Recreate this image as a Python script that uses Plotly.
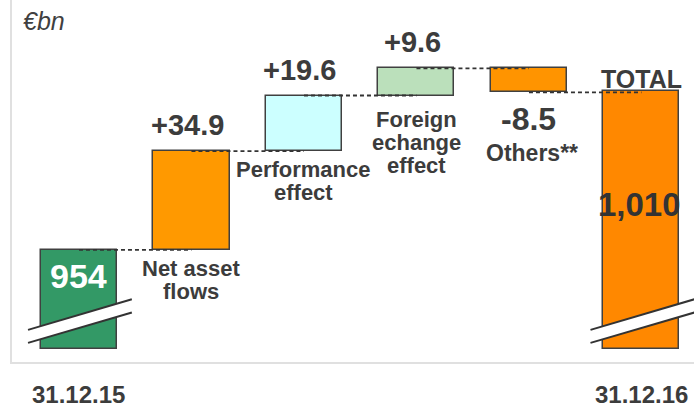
import plotly.graph_objects as go

# Assets under management bridge, EUR bn
period_labels = ["31.12.15", "31.12.16"]
opening_value = 954
closing_value = 1010
step_values = [34.9, 19.6, 9.6, -8.5]
step_names = [["Net asset", "flows"], ["Performance", "effect"],
              ["Foreign", "echange", "effect"], ["Others**"]]
total_label = "TOTAL"
unit_label = "€bn"

# Styling
AXIS_FLOOR = 919          # where the broken start/end bars are cut off
Y_RANGE = [914.1, 1042.2]
X_RANGE = [-0.702, 5.467]
BAR_WIDTH = 0.676
bar_colors = ["#339966", "#FF9900", "#CCFFFF", "#BBE0BB", "#FF9400", "#FF8800"]
EDGE = "#404040"
TEXT = "#3C3C3C"
FONT = "Liberation Sans, Arial, sans-serif"

# Running levels of the bridge
levels = [opening_value]
for d in step_values:
    levels.append(round(levels[-1] + d, 1))

n = len(step_values) + 2
xs = list(range(n))
bases = [AXIS_FLOOR]
heights = [opening_value - AXIS_FLOOR]
for i, d in enumerate(step_values):
    bases.append(min(levels[i], levels[i + 1]))
    heights.append(abs(d))
bases.append(AXIS_FLOOR)
heights.append(closing_value - AXIS_FLOOR)

fig = go.Figure()
fig.add_trace(go.Bar(
    x=xs, y=heights, base=bases, width=BAR_WIDTH,
    marker=dict(color=bar_colors, line=dict(color=EDGE, width=1.5)),
    hoverinfo="skip", showlegend=False,
))

shapes = []
# Plot frame
shapes.append(dict(type="rect", xref="paper", yref="paper",
                   x0=11 / 694, x1=1.05, y0=0, y1=1.05,
                   line=dict(color="#E0E0E0", width=2), layer="below"))

# Dashed connectors between consecutive bars
for i in range(n - 1):
    lvl = levels[i] if i < len(levels) else levels[-1]
    shapes.append(dict(type="line", xref="x", yref="y",
                       x0=i, x1=i + 1, y0=lvl, y1=lvl,
                       line=dict(color="#333333", width=1.8, dash="4px,3px")))

# Axis-break marks across the first and last bar
for i in (0, n - 1):
    xl, xr = i - 0.453, i + 0.47
    lo_l, lo_r = AXIS_FLOOR + 2.2, AXIS_FLOOR + 12.9
    hi_l, hi_r = AXIS_FLOOR + 6.8, AXIS_FLOOR + 17.6
    shapes.append(dict(type="path", xref="x", yref="y",
                       path=f"M {xl},{lo_l} L {xr},{lo_r} L {xr},{hi_r} L {xl},{hi_l} Z",
                       fillcolor="white", line=dict(width=0)))
    for (a, b) in ((lo_l, lo_r), (hi_l, hi_r)):
        shapes.append(dict(type="line", xref="x", yref="y",
                           x0=xl, x1=xr, y0=a, y1=b,
                           line=dict(color="#333333", width=2)))

ann = []


def label(x, y, text, size, color=TEXT, yshift=0, xshift=0, italic=False,
          bold=True, xref="x", yref="y", xanchor="center"):
    ann.append(dict(x=x, y=y, xref=xref, yref=yref, text=text, showarrow=False,
                    xanchor=xanchor, yanchor="middle", yshift=yshift, xshift=xshift,
                    font=dict(family=FONT, size=size, color=color,
                              weight="bold" if bold else "normal",
                              style="italic" if italic else "normal")))


# Opening and closing values
label(0, opening_value, f"{opening_value:,}", 34, "white", yshift=-26)
label(n - 1, closing_value, f"{closing_value:,}", 33, "#333333", yshift=-113, xshift=-2)
label(n - 1, closing_value, total_label, 25, yshift=12)

# Step values and their names
name_first = [-19, -18, -24]
for k, d in enumerate(step_values):
    i = k + 1
    top, bottom = max(levels[k], levels[k + 1]), min(levels[k], levels[k + 1])
    if d >= 0:
        label(i, top, f"{d:+.1f}", 29, yshift=26, xshift=-4)
        for j, line in enumerate(step_names[k]):
            label(i, bottom, line, 22, yshift=name_first[k] - 23 * j)
    else:
        label(i, bottom, f"{d:+.1f}", 32, yshift=-27)
        for j, line in enumerate(step_names[k]):
            label(i, bottom, line, 23, yshift=-61 - 23 * j, xshift=3)

# Period labels under the first and last bars
for x, t in zip((0, n - 1), period_labels):
    label(x, 0, t, 24, yref="paper", yshift=-31)

# Unit
label(21 / 694, 1, unit_label, 25, "#404040", yshift=-21,
      italic=True, bold=False, xref="paper", yref="paper", xanchor="left")

fig.update_layout(
    width=694, height=408,
    margin=dict(l=0, r=0, t=0, b=45),
    paper_bgcolor="white", plot_bgcolor="white",
    shapes=shapes, annotations=ann,
    xaxis=dict(range=X_RANGE, visible=False, fixedrange=True),
    yaxis=dict(range=Y_RANGE, visible=False, fixedrange=True),
    bargap=0,
)

fig.write_html("out.html")
